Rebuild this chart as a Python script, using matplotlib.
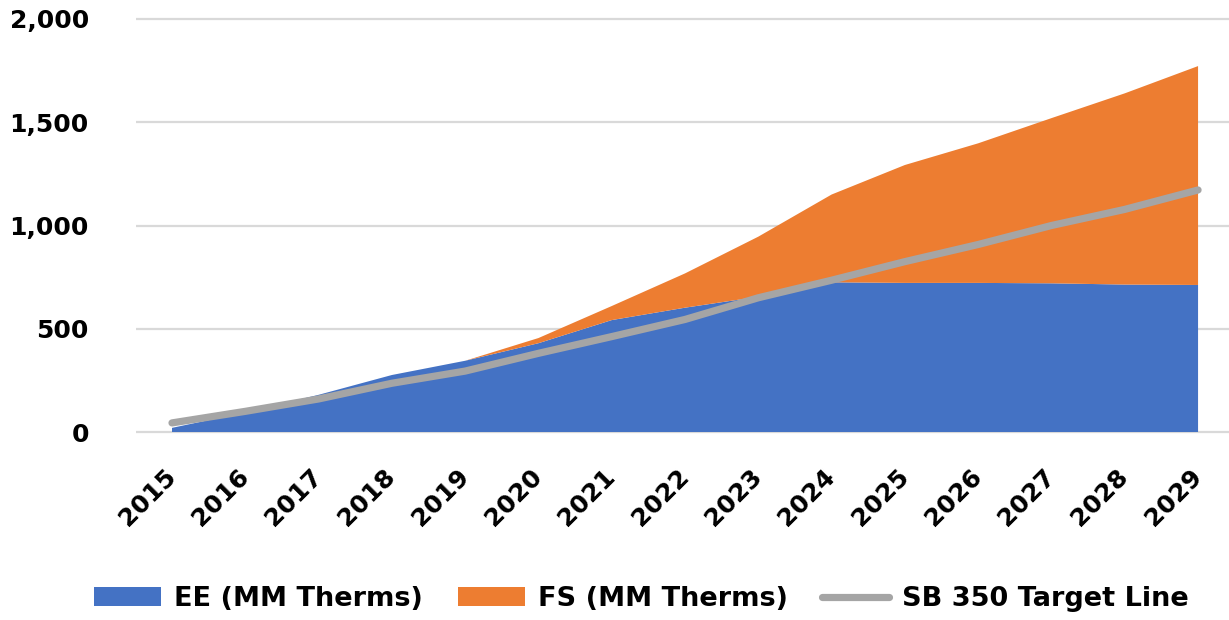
import matplotlib
matplotlib.use("Agg")
import matplotlib.pyplot as plt
from matplotlib.ticker import FuncFormatter

# Annual savings (MM therms) and SB 350 target
years = [2015, 2016, 2017, 2018, 2019, 2020, 2021, 2022,
         2023, 2024, 2025, 2026, 2027, 2028, 2029]
ee_savings = [20, 95, 180, 276, 345, 430, 542, 602,
              655, 725, 722, 722, 720, 714, 712]
fs_savings = [0, 0, 0, 0, 0, 25, 68, 166,
              291, 425, 571, 676, 800, 926, 1060]
sb350_target = [44, 100, 160, 236, 295, 381, 462, 545,
                650, 735, 825, 908, 1000, 1078, 1172]
y_ticks = [0, 500, 1000, 1500, 2000]

labels = ["EE (MM Therms)", "FS (MM Therms)", "SB 350 Target Line"]
blue, orange, gray = "#4472C4", "#ED7D31", "#A5A5A5"

W, H = 1229, 620
fig = plt.figure(figsize=(W / 100, H / 100), dpi=100)

# axes geometry in pixels
px_per_year = 73.29
px_per_unit = 0.2065
x_left_px, x_right_px = 136, 1229
y_lo, y_hi = -8, 2008
y0_px = 432
bottom_px = y0_px - y_lo * px_per_unit
top_px = y0_px - y_hi * px_per_unit
ax = fig.add_axes([x_left_px / W, 1 - bottom_px / H,
                   (x_right_px - x_left_px) / W, (bottom_px - top_px) / H])

x_lo = years[0] - 36 / px_per_year
x_hi = x_lo + (x_right_px - x_left_px) / px_per_year
ax.set_xlim(x_lo, x_hi)
ax.set_ylim(y_lo, y_hi)

polys = ax.stackplot(years, ee_savings, fs_savings, colors=[blue, orange],
                     labels=labels[:2], linewidth=0, zorder=2)
line, = ax.plot(years, sb350_target, color=gray, lw=5.2,
                solid_capstyle="round", label=labels[2], zorder=3)

font = "DejaVu Sans"
tick_pt = 18
legend_pt = 19.5

ax.set_yticks(y_ticks)
ax.yaxis.set_major_formatter(FuncFormatter(lambda v, p: f"{int(v):,}"))
ax.grid(axis="y", color="#D9D9D9", lw=1.6, zorder=0)
ax.set_axisbelow(True)
for s in ax.spines.values():
    s.set_visible(False)
ax.tick_params(axis="y", length=0, pad=34, labelsize=tick_pt)
ax.tick_params(axis="x", length=0, pad=28, labelsize=tick_pt)

ax.set_xticks(years)
ax.set_xticklabels([str(y) for y in years], rotation=45,
                   ha="right", va="center", rotation_mode="anchor")
for lab in ax.get_xticklabels() + ax.get_yticklabels():
    lab.set_fontfamily(font)
    lab.set_fontweight("bold")
    lab.set_color("#000000")

fig.legend(handles=[polys[0], polys[1], line], labels=labels,
           loc="center", bbox_to_anchor=(641.5 / W, 1 - 599 / H),
           ncol=3, frameon=False,
           prop={"family": font, "weight": "bold", "size": legend_pt},
           handlelength=2.47, handleheight=0.7, handletextpad=0.48,
           columnspacing=1.29)

fig.savefig("out.png", dpi=100, facecolor="white")
